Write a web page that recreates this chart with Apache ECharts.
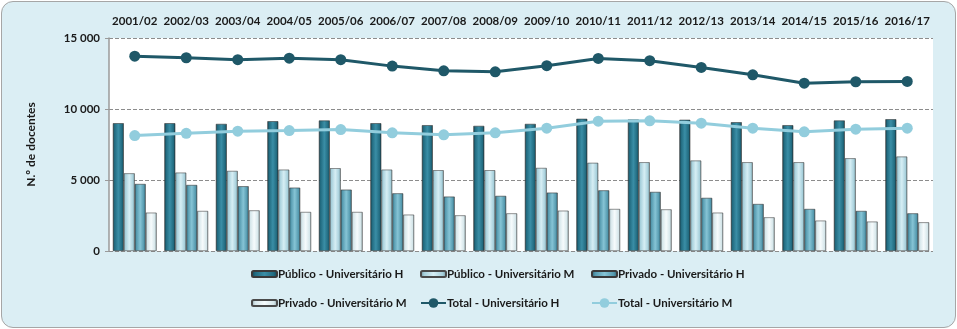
<!DOCTYPE html>
<html>
<head>
<meta charset="utf-8">
<script src="https://cdn.jsdelivr.net/npm/echarts@6/dist/echarts.min.js"></script>
<style>
html,body{margin:0;padding:0;background:#ffffff;}
#chart{position:absolute;left:1px;top:1px;width:953px;height:325px;border:1px solid #a6a6a6;border-radius:12px;background:#DBEEF4;overflow:hidden;}
</style>
</head>
<body>
<div id="chart"></div>
<script>
const categories = ['2001/02','2002/03','2003/04','2004/05','2005/06','2006/07','2007/08','2008/09','2009/10','2010/11','2011/12','2012/13','2013/14','2014/15','2015/16','2016/17'];
const publicoH = [9000,9000,8950,9140,9190,9000,8860,8810,8950,9310,9260,9240,9070,8860,9190,9280];
const publicoM = [5470,5520,5640,5730,5830,5730,5690,5690,5850,6210,6250,6370,6250,6250,6530,6650];
const privadoH = [4720,4650,4560,4460,4320,4060,3830,3880,4110,4270,4160,3740,3310,2960,2820,2650];
const privadoM = [2700,2820,2860,2750,2750,2560,2510,2650,2840,2960,2930,2700,2370,2140,2070,2020];
const totalH = [13720,13610,13470,13580,13470,13020,12690,12620,13050,13560,13400,12930,12410,11820,11920,11940];
const totalM = [8130,8290,8440,8480,8550,8320,8180,8320,8650,9140,9170,9000,8650,8390,8580,8650];
const yTicks = [0,5000,10000,15000];
const seriesNames = ['Público - Universitário H','Público - Universitário M','Privado - Universitário H','Privado - Universitário M','Total - Universitário H','Total - Universitário M'];

const FONT = 'Lato';
function grad(a,b,c){
  return new echarts.graphic.LinearGradient(0,0,1,0,[
    {offset:0,color:a},{offset:0.15,color:b},{offset:0.5,color:c},{offset:0.85,color:b},{offset:1,color:a}
  ]);
}
const chart = echarts.init(document.getElementById('chart'), null, {renderer:'canvas'});
const legendPos = [[244,261],[413,261],[584,261],[244,290],[413,290],[584,290]];
const legends = seriesNames.map((n,i)=>({
  data:[n], left:legendPos[i][0], top:legendPos[i][1],
  itemWidth:25, itemHeight: i<4 ? 6 : 12, itemGap:2,
  textStyle:{fontFamily:FONT,fontWeight:'bold',fontSize:11.5,color:'#1a1a1a',padding:[0,0,0,-4]}
}));
const barCommon = {type:'bar', barGap:'0%', barCategoryGap:'15%', yAxisIndex:0, xAxisIndex:0};
chart.setOption({
  animation:false,
  textStyle:{fontFamily:FONT},
  legend: legends,
  grid:{left:107,right:22,top:36,bottom:76,containLabel:false,backgroundColor:'#ffffff',show:true,borderWidth:0},
  xAxis:{type:'category',data:categories,position:'top',
    axisLine:{show:false},axisTick:{show:false},
    axisLabel:{interval:0,fontFamily:FONT,fontWeight:'bold',fontSize:11.5,color:'#1a1a1a',margin:11}},
  yAxis:{type:'value',min:yTicks[0],max:yTicks[yTicks.length-1],interval:5000,
    name:'N.º de docentes',nameLocation:'middle',nameGap:72,nameRotate:90,
    nameTextStyle:{fontFamily:FONT,fontWeight:'bold',fontSize:12,color:'#1a1a1a'},
    axisLine:{show:true,lineStyle:{color:'#9a9a9a',width:1.5}},
    axisTick:{show:true,length:4,lineStyle:{color:'#9a9a9a'}},
    splitLine:{show:true,lineStyle:{color:'#8c8c8c',type:[4,2],width:1}},
    axisLabel:{fontFamily:FONT,fontWeight:'bold',fontSize:11.5,color:'#1a1a1a',margin:9,
      formatter:v=>String(v).replace(/\B(?=(\d{3})+(?!\d))/g,' ')}},
  series:[
    Object.assign({},barCommon,{name:seriesNames[0],data:publicoH,itemStyle:{color:grad('#123844','#216a7f','#3a8ea6'),borderColor:'#3a3a3a',borderWidth:0.6}}),
    Object.assign({},barCommon,{name:seriesNames[1],data:publicoM,itemStyle:{color:grad('#6a888f','#a6cfdb','#d6eef4'),borderColor:'#4a4a4a',borderWidth:0.6}}),
    Object.assign({},barCommon,{name:seriesNames[2],data:privadoH,itemStyle:{color:grad('#2b5866','#5499ae','#86c4d5'),borderColor:'#3a3a3a',borderWidth:0.6}}),
    Object.assign({},barCommon,{name:seriesNames[3],data:privadoM,itemStyle:{color:grad('#84979c','#d5e6ea','#f6fbfc'),borderColor:'#4a4a4a',borderWidth:0.6}}),
    {name:seriesNames[4],type:'line',data:totalH,symbol:'circle',symbolSize:11,
      lineStyle:{color:'#1f5868',width:3},itemStyle:{color:'#1f5868'},z:5},
    {name:seriesNames[5],type:'line',data:totalM,symbol:'circle',symbolSize:11,
      lineStyle:{color:'#92cddd',width:3},itemStyle:{color:'#92cddd'},z:5}
  ]
});
</script>
</body>
</html>
